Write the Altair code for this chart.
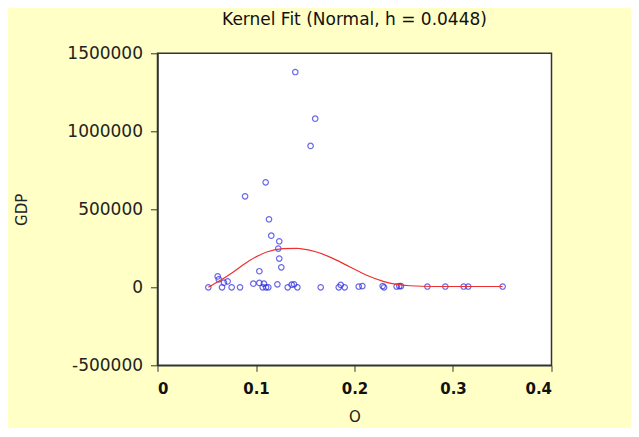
import altair as alt
import pandas as pd

# scatter data (O, GDP)
o_vals = [0.1399, 0.1601, 0.1554, 0.1098, 0.0889, 0.1132, 0.1155, 0.1236, 0.1226, 0.1236,
          0.1257, 0.1034, 0.0611, 0.0622, 0.0675, 0.0712,
          0.0516, 0.0655, 0.0753, 0.0838, 0.0973, 0.1034, 0.1068, 0.1081, 0.1102, 0.1125,
          0.1217, 0.1322, 0.1362, 0.1386, 0.1420, 0.1657, 0.1840, 0.1860, 0.1900, 0.2043,
          0.2080, 0.2286, 0.2300, 0.2428, 0.2455, 0.2472, 0.2740, 0.2922, 0.3108, 0.3155,
          0.3504]
gdp_vals = [1380000, 1081000, 906000, 673000, 583000, 436000, 331000, 295000, 248000, 184000,
            128000, 103000, 70000, 51000, 30000, 38000,
            0, 0, 0, 0, 23000, 28000, 0, 23000, 0, 0,
            19000, 0, 17000, 19000, 0, 0, 0, 15000, 0, 5000,
            8000, 8000, 0, 5000, 8000, 8000, 5000, 5000, 5000, 5000,
            5000]

# kernel fit curve
fit_x = [0.0516, 0.0635, 0.077, 0.0939, 0.1109, 0.1277, 0.1413, 0.1447, 0.1616, 0.1785,
         0.1954, 0.2124, 0.2292, 0.2428, 0.2563, 0.28, 0.31, 0.3504]
fit_y = [0, 43000, 98000, 173000, 226000, 248000, 250000, 248000, 226000, 184000,
         130000, 77000, 38000, 19000, 10000, 5000, 5000, 5000]

pts = pd.DataFrame({"O": o_vals, "GDP": gdp_vals})
fit = pd.DataFrame({"O": fit_x, "GDP": fit_y})

x_ticks = [0, 0.1, 0.2, 0.3, 0.4]
y_ticks = [-500000, 0, 500000, 1000000, 1500000]

x_enc = alt.X("O:Q", title="O",
              scale=alt.Scale(domain=[0, 0.4], nice=False, zero=False),
              axis=alt.Axis(values=x_ticks, format="~g", grid=False,
                            labelFont="DejaVu Sans", labelFontSize=15, labelFontWeight="bold",
                            labelColor="#111", labelPadding=10, tickSize=6,
                            titleFont="DejaVu Sans", titleFontSize=15, titleFontWeight="normal",
                            titleColor="#222", titlePadding=13,
                            domainColor="#333", tickColor="#333", domainWidth=1.5))
y_enc = alt.Y("GDP:Q", title="GDP",
              scale=alt.Scale(domain=[-500000, 1500000], nice=False, zero=False),
              axis=alt.Axis(values=y_ticks, format="d", grid=False,
                            labelExpr="replace(datum.label, '\u2212', '-')",
                            labelFont="DejaVu Sans", labelFontSize=17,
                            labelColor="#222", labelPadding=8, tickSize=7,
                            titleFont="DejaVu Sans", titleFontSize=15, titleFontWeight="normal",
                            titleColor="#222", titlePadding=37,
                            domainColor="#333", tickColor="#333", domainWidth=1.5))

scatter = alt.Chart(pts).mark_point(shape="circle", filled=False, color="#2A2AE0",
                                    size=30, strokeWidth=1.2).encode(x=x_enc, y=y_enc)
line = alt.Chart(fit).mark_line(color="#EE3030", strokeWidth=1.2,
                                interpolate="monotone").encode(x="O:Q", y="GDP:Q")

chart = (scatter + line).properties(
    width=394, height=312,
    title=alt.TitleParams("Kernel Fit (Normal, h = 0.0448)", font="DejaVu Sans",
                          fontSize=17, fontWeight="normal", color="#111",
                          anchor="middle", frame="group", offset=15),
    background="#FFFFC6",
    autosize=alt.AutoSizeParams(type="none"),
    padding={"left": 149.5, "top": 45.3, "right": 79, "bottom": 63},
).configure_view(fill="white", stroke="#333", strokeWidth=1.5)

chart.save("out.html", embed_options={"renderer": "svg", "actions": False})
